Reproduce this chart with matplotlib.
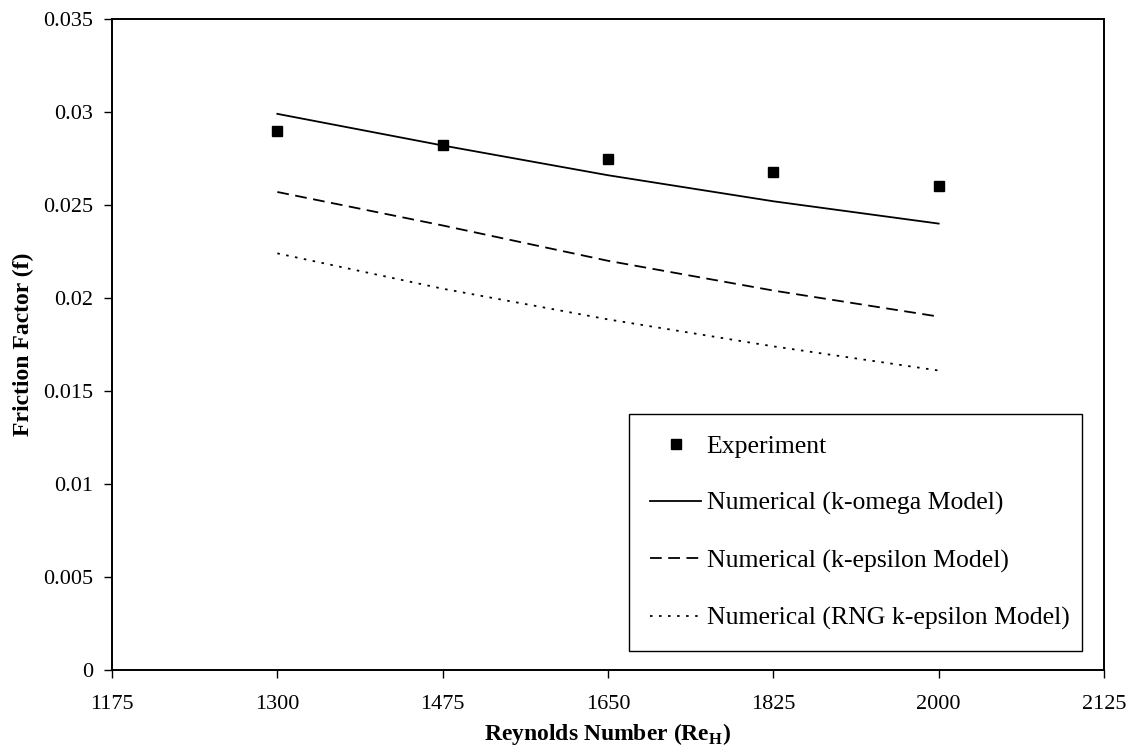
import numpy as np
import matplotlib
matplotlib.use("Agg")
import matplotlib.pyplot as plt

# Data
reynolds = [1300, 1475, 1650, 1825, 2000]
experiment = [0.0290, 0.02825, 0.0275, 0.0268, 0.0260]
k_omega = [0.0299, 0.0282, 0.0266, 0.0252, 0.0240]
k_epsilon = [0.0257, 0.0239, 0.0220, 0.0204, 0.0190]
rng_k_epsilon = [0.0224, 0.0205, 0.01885, 0.0174, 0.0161]

x_tick_pos = [1125, 1300, 1475, 1650, 1825, 2000, 2175]
x_tick_labels = ['1175', '1300', '1475', '1650', '1825', '2000', '2125']
y_ticks = [0, 0.005, 0.01, 0.015, 0.02, 0.025, 0.03, 0.035]
y_tick_labels = ['0', '0.005', '0.01', '0.015', '0.02', '0.025', '0.03', '0.035']

plt.rcParams['font.family'] = ['Liberation Serif', 'DejaVu Serif']
plt.rcParams['mathtext.fontset'] = 'custom'
plt.rcParams['mathtext.rm'] = 'Liberation Serif'
plt.rcParams['mathtext.bf'] = 'Liberation Serif:bold'

fig = plt.figure(figsize=(11.36, 7.49), dpi=100)
ax = fig.add_axes([112 / 1136, 1 - 670 / 749, 992 / 1136, 651 / 749])

ax.plot(reynolds, experiment, 's', color='black', ms=6.5, label='Experiment')
ax.plot(reynolds, k_omega, '-', color='black', lw=1.3,
        label='Numerical (k-omega Model)')
ax.plot(reynolds, k_epsilon, color='black', lw=1.3, dashes=(6.5, 3.6),
        label='Numerical (k-epsilon Model)')
ax.plot(reynolds, rng_k_epsilon, color='black', lw=1.3, dashes=(1.4, 3.6),
        label='Numerical (RNG k-epsilon Model)')

ax.set_xlim(1125, 2175)
ax.set_ylim(0, 0.035)
ax.set_xticks(x_tick_pos)
ax.set_xticklabels(x_tick_labels)
ax.set_yticks(y_ticks)
ax.set_yticklabels(y_tick_labels)
ax.tick_params(direction='out', length=5.8, width=1, labelsize=16,
               top=False, right=False)
ax.tick_params(axis='y', pad=8)
ax.tick_params(axis='x', pad=12)
for s in ax.spines.values():
    s.set_linewidth(1.4)
    s.set_color('black')

ax.set_xlabel(r'Reynolds Number (Re$_{\mathbf{H}}$)', fontsize=17,
              fontweight='bold', va='top')
ax.xaxis.set_label_coords(0.5, -0.079)
ax.set_ylabel('Friction Factor (f)', fontsize=17, fontweight='bold')
ax.yaxis.set_label_coords(-0.079, 0.5)

leg = ax.legend(loc='lower left', bbox_to_anchor=(0.5212, 0.0292, 0.4566, 0.3625),
                mode='expand', fontsize=18.5, frameon=True, fancybox=False,
                edgecolor='black', framealpha=1, borderpad=0.82,
                labelspacing=1.32, handlelength=2.0, handletextpad=0.2,
                borderaxespad=0)
leg.get_frame().set_linewidth(1.0)

fig.savefig('out.png', dpi=100)
